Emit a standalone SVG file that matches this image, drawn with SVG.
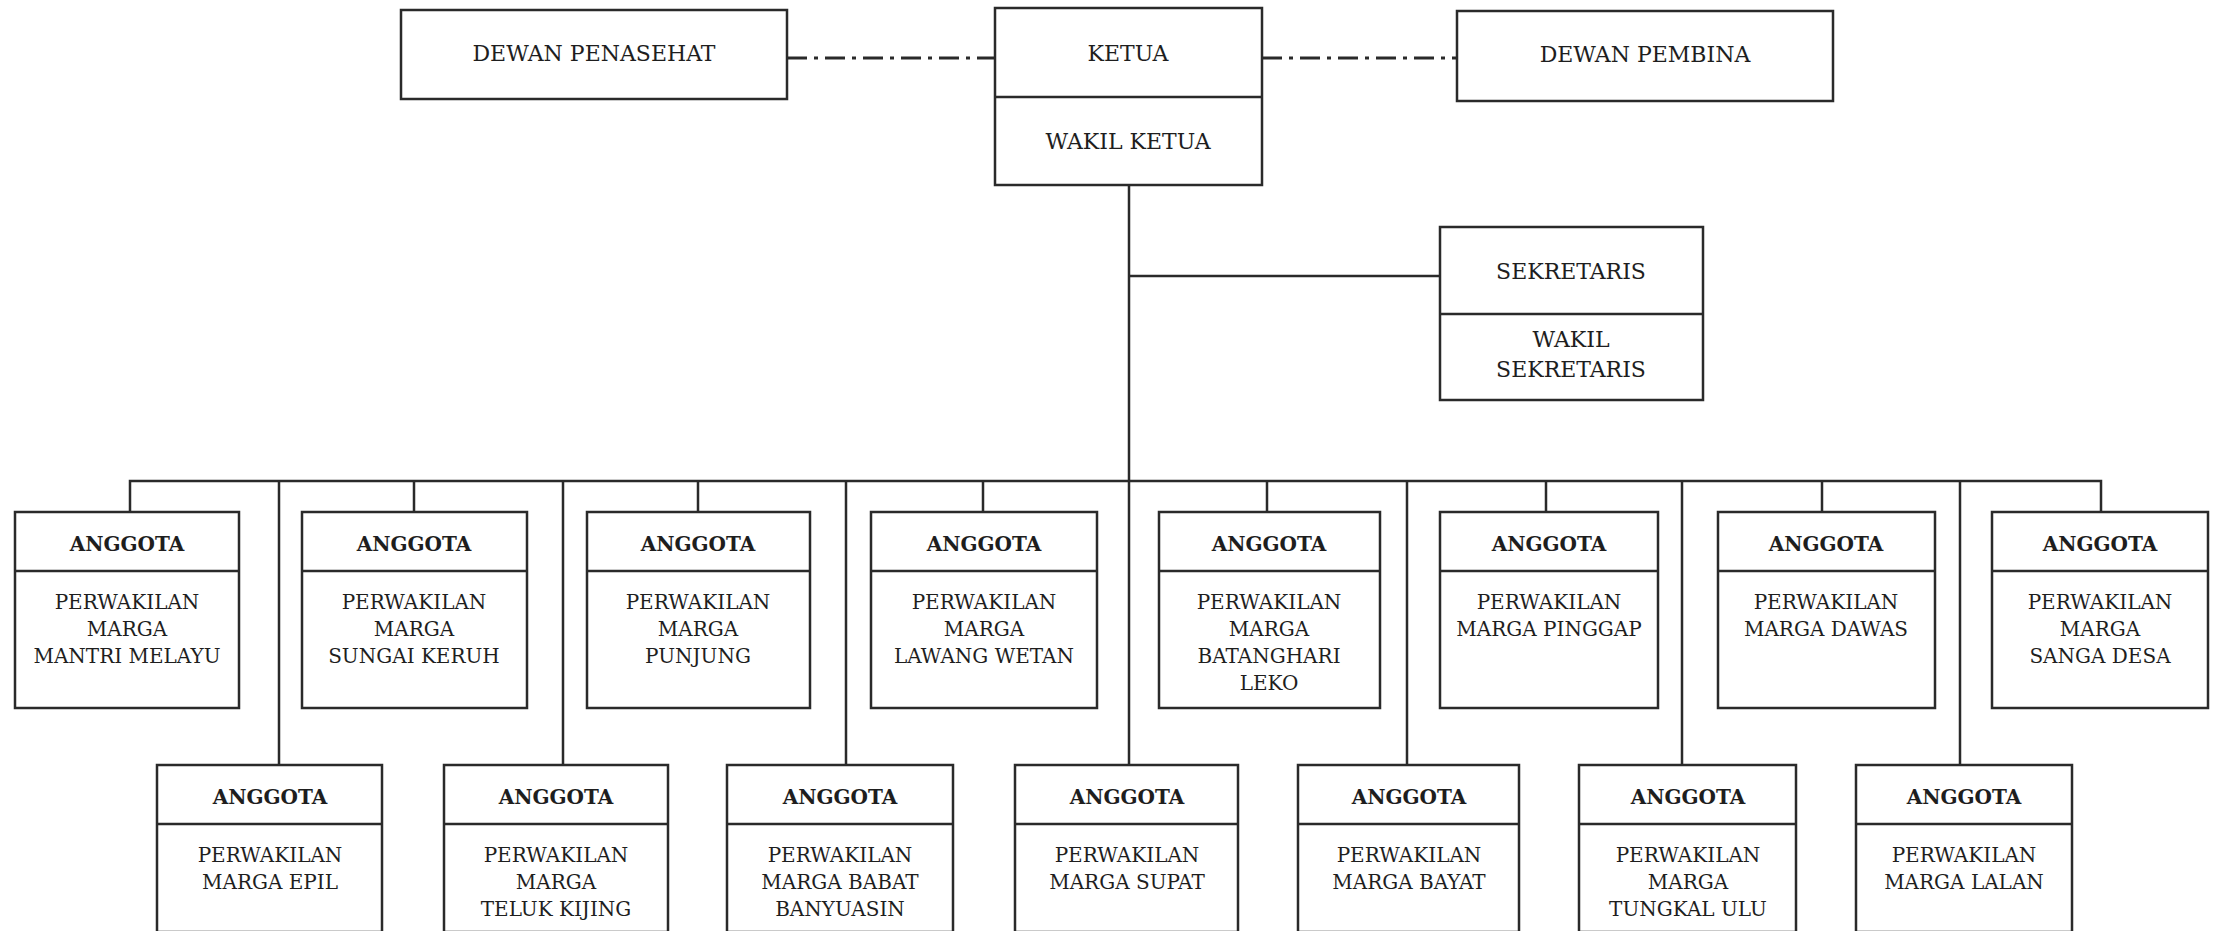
<svg xmlns="http://www.w3.org/2000/svg" width="2214" height="931" viewBox="0 0 2214 931">
<style>
.bx{fill:#fff;stroke:#2a2a2a;stroke-width:2.5}
.ln{stroke:#2a2a2a;stroke-width:2.5;fill:none}
.dd{stroke:#2a2a2a;stroke-width:3;fill:none;stroke-dasharray:20 7 4 7}
text{font-family:"DejaVu Serif","Liberation Serif",serif;fill:#1e1e1e;text-anchor:middle}
.t{font-size:22px}
.b{font-size:20px;font-weight:bold}
.s{font-size:20px}
</style>
<rect width="2214" height="931" fill="#fff"/>
<g id="connectors">
<path class="dd" d="M787 58H995"/>
<path class="dd" d="M1262 58H1457"/>
<path class="ln" d="M1129 185V765"/>
<path class="ln" d="M1129 276H1440"/>
<path class="ln" d="M130 512V481H2101V512"/>
<path class="ln" d="M414 481V512M698 481V512M983 481V512M1267 481V512M1546 481V512M1822 481V512"/>
<path class="ln" d="M279 481V765M563 481V765M846 481V765M1407 481V765M1682 481V765M1960 481V765"/>
</g>
<g id="dewan-penasehat"><rect class="bx" x="401" y="10" width="386" height="89"/><text class="t" x="594" y="61">DEWAN PENASEHAT</text></g>
<g id="ketua"><rect class="bx" x="995" y="8" width="267" height="177"/><path class="ln" d="M995 97H1262"/><text class="t" x="1128" y="61">KETUA</text><text class="t" x="1128" y="149">WAKIL KETUA</text></g>
<g id="dewan-pembina"><rect class="bx" x="1457" y="11" width="376" height="90"/><text class="t" x="1645" y="62">DEWAN PEMBINA</text></g>
<g id="sekretaris"><rect class="bx" x="1440" y="227" width="263" height="173"/><path class="ln" d="M1440 314H1703"/><text class="t" x="1571" y="279">SEKRETARIS</text><text class="t" x="1571" y="347">WAKIL</text><text class="t" x="1571" y="377">SEKRETARIS</text></g>

<g id="a1"><rect class="bx" x="15" y="512" width="224" height="196"/><path class="ln" d="M15 571H239"/><text class="b" x="127" y="551">ANGGOTA</text><text class="s" x="127" y="609">PERWAKILAN</text><text class="s" x="127" y="636">MARGA</text><text class="s" x="127" y="663">MANTRI MELAYU</text></g>
<g id="a2"><rect class="bx" x="302" y="512" width="225" height="196"/><path class="ln" d="M302 571H527"/><text class="b" x="414" y="551">ANGGOTA</text><text class="s" x="414" y="609">PERWAKILAN</text><text class="s" x="414" y="636">MARGA</text><text class="s" x="414" y="663">SUNGAI KERUH</text></g>
<g id="a3"><rect class="bx" x="587" y="512" width="223" height="196"/><path class="ln" d="M587 571H810"/><text class="b" x="698" y="551">ANGGOTA</text><text class="s" x="698" y="609">PERWAKILAN</text><text class="s" x="698" y="636">MARGA</text><text class="s" x="698" y="663">PUNJUNG</text></g>
<g id="a4"><rect class="bx" x="871" y="512" width="226" height="196"/><path class="ln" d="M871 571H1097"/><text class="b" x="984" y="551">ANGGOTA</text><text class="s" x="984" y="609">PERWAKILAN</text><text class="s" x="984" y="636">MARGA</text><text class="s" x="984" y="663">LAWANG WETAN</text></g>
<g id="a5"><rect class="bx" x="1159" y="512" width="221" height="196"/><path class="ln" d="M1159 571H1380"/><text class="b" x="1269" y="551">ANGGOTA</text><text class="s" x="1269" y="609">PERWAKILAN</text><text class="s" x="1269" y="636">MARGA</text><text class="s" x="1269" y="663">BATANGHARI</text><text class="s" x="1269" y="690">LEKO</text></g>
<g id="a6"><rect class="bx" x="1440" y="512" width="218" height="196"/><path class="ln" d="M1440 571H1658"/><text class="b" x="1549" y="551">ANGGOTA</text><text class="s" x="1549" y="609">PERWAKILAN</text><text class="s" x="1549" y="636">MARGA PINGGAP</text></g>
<g id="a7"><rect class="bx" x="1718" y="512" width="217" height="196"/><path class="ln" d="M1718 571H1935"/><text class="b" x="1826" y="551">ANGGOTA</text><text class="s" x="1826" y="609">PERWAKILAN</text><text class="s" x="1826" y="636">MARGA DAWAS</text></g>
<g id="a8"><rect class="bx" x="1992" y="512" width="216" height="196"/><path class="ln" d="M1992 571H2208"/><text class="b" x="2100" y="551">ANGGOTA</text><text class="s" x="2100" y="609">PERWAKILAN</text><text class="s" x="2100" y="636">MARGA</text><text class="s" x="2100" y="663">SANGA DESA</text></g>

<g id="b1"><rect class="bx" x="157" y="765" width="225" height="167"/><path class="ln" d="M157 824H382"/><text class="b" x="270" y="804">ANGGOTA</text><text class="s" x="270" y="862">PERWAKILAN</text><text class="s" x="270" y="889">MARGA EPIL</text></g>
<g id="b2"><rect class="bx" x="444" y="765" width="224" height="167"/><path class="ln" d="M444 824H668"/><text class="b" x="556" y="804">ANGGOTA</text><text class="s" x="556" y="862">PERWAKILAN</text><text class="s" x="556" y="889">MARGA</text><text class="s" x="556" y="916">TELUK KIJING</text></g>
<g id="b3"><rect class="bx" x="727" y="765" width="226" height="167"/><path class="ln" d="M727 824H953"/><text class="b" x="840" y="804">ANGGOTA</text><text class="s" x="840" y="862">PERWAKILAN</text><text class="s" x="840" y="889">MARGA BABAT</text><text class="s" x="840" y="916">BANYUASIN</text></g>
<g id="b4"><rect class="bx" x="1015" y="765" width="223" height="167"/><path class="ln" d="M1015 824H1238"/><text class="b" x="1127" y="804">ANGGOTA</text><text class="s" x="1127" y="862">PERWAKILAN</text><text class="s" x="1127" y="889">MARGA SUPAT</text></g>
<g id="b5"><rect class="bx" x="1298" y="765" width="221" height="167"/><path class="ln" d="M1298 824H1519"/><text class="b" x="1409" y="804">ANGGOTA</text><text class="s" x="1409" y="862">PERWAKILAN</text><text class="s" x="1409" y="889">MARGA BAYAT</text></g>
<g id="b6"><rect class="bx" x="1579" y="765" width="217" height="167"/><path class="ln" d="M1579 824H1796"/><text class="b" x="1688" y="804">ANGGOTA</text><text class="s" x="1688" y="862">PERWAKILAN</text><text class="s" x="1688" y="889">MARGA</text><text class="s" x="1688" y="916">TUNGKAL ULU</text></g>
<g id="b7"><rect class="bx" x="1856" y="765" width="216" height="167"/><path class="ln" d="M1856 824H2072"/><text class="b" x="1964" y="804">ANGGOTA</text><text class="s" x="1964" y="862">PERWAKILAN</text><text class="s" x="1964" y="889">MARGA LALAN</text></g>
</svg>
